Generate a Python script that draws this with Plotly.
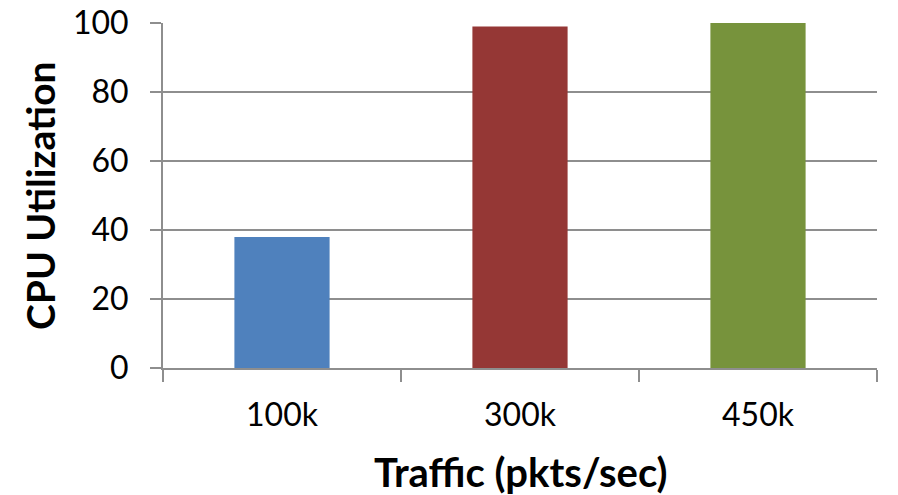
import plotly.graph_objects as go

# CPU utilization measured at each traffic rate
traffic = ["100k", "300k", "450k"]
cpu_util = [38, 99, 100]
bar_colors = ["#4F81BD", "#953735", "#77933C"]
y_ticks = [0, 20, 40, 60, 80, 100]

W, H = 898, 495
L, R, T, B = 163, 21, 23, 127
plot_w = W - L - R
plot_h = H - T - B

FONT = "Lato"
GRID = "#8E8E8E"

fig = go.Figure(
    go.Bar(
        x=traffic,
        y=cpu_util,
        marker=dict(color=bar_colors, line=dict(width=0)),
        showlegend=False,
    )
)

fig.update_layout(
    width=W,
    height=H,
    margin=dict(l=L, r=R, t=T, b=B, pad=0),
    paper_bgcolor="white",
    plot_bgcolor="white",
    bargap=0.6,
    font=dict(family=FONT, color="black"),
)

fig.update_xaxes(
    type="category",
    automargin=False,
    tickson="boundaries",
    ticks="outside",
    ticklen=12,
    tickwidth=2,
    tickcolor=GRID,
    showline=True,
    linecolor=GRID,
    linewidth=2,
    showgrid=False,
    tickfont=dict(family=FONT, size=32, color="black"),
    ticklabelstandoff=18,
)

fig.update_yaxes(
    range=[0, 100],
    automargin=False,
    tickvals=y_ticks,
    ticks="outside",
    ticklen=11,
    tickwidth=2,
    tickcolor=GRID,
    showline=True,
    linecolor=GRID,
    linewidth=2,
    showgrid=True,
    gridcolor=GRID,
    gridwidth=2,
    zeroline=False,
    tickfont=dict(family=FONT, size=32, color="black"),
    ticklabelstandoff=15,
)

fig.add_annotation(
    text="<b>Traffic (pkts/sec)</b>",
    xref="paper", yref="paper",
    x=(520 - L) / plot_w,
    y=-(472 - (T + plot_h)) / plot_h,
    xanchor="center", yanchor="middle",
    showarrow=False,
    font=dict(family=FONT, size=40, color="black"),
)

fig.add_annotation(
    text="<b>CPU Utilization</b>",
    xref="paper", yref="paper",
    x=(40 - L) / plot_w,
    y=(T + plot_h - 196) / plot_h,
    xanchor="center", yanchor="middle",
    textangle=-90,
    showarrow=False,
    font=dict(family=FONT, size=39, color="black"),
)

fig.write_html("out.html")
